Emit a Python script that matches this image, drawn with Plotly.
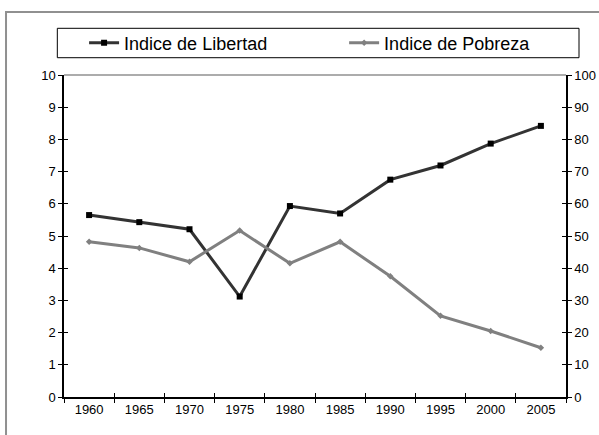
import plotly.graph_objects as go

years = ["1960", "1965", "1970", "1975", "1980", "1985", "1990", "1995", "2000", "2005"]
libertad = [5.65, 5.43, 5.21, 3.12, 5.93, 5.70, 6.75, 7.19, 7.87, 8.42]
pobreza = [48.2, 46.3, 42.0, 51.7, 41.5, 48.2, 37.5, 25.2, 20.5, 15.3]
left_ticks = list(range(0, 11))
right_ticks = list(range(0, 101, 10))

FONT = "Liberation Sans, Arial, sans-serif"

fig = go.Figure()
fig.add_trace(go.Scatter(
    x=years, y=libertad, name="Indice de Libertad", mode="lines+markers",
    line=dict(color="#333333", width=3),
    marker=dict(symbol="square", size=6, color="#000000"),
    yaxis="y", legend="legend",
))
fig.add_trace(go.Scatter(
    x=years, y=pobreza, name="Indice de Pobreza", mode="lines+markers",
    line=dict(color="#808080", width=3),
    marker=dict(symbol="diamond", size=5, color="#808080"),
    yaxis="y2", legend="legend2",
))
# empty helper traces so the inner tick marks (crossing ticks) are drawn
for ya in ("y3", "y4"):
    fig.add_trace(go.Scatter(x=years, y=[None] * len(years), xaxis="x2", yaxis=ya,
                             mode="lines", showlegend=False, hoverinfo="skip"))

axis_common = dict(showgrid=False, zeroline=False, showline=True, linecolor="#000000",
                   linewidth=1.5, ticks="outside", ticklen=4, tickcolor="#000000",
                   tickfont=dict(family=FONT, size=13, color="#000000"))
inner_common = dict(showgrid=False, zeroline=False, showline=False, ticks="inside",
                    ticklen=4, tickcolor="#000000", tickwidth=1, showticklabels=False)

legend_common = dict(orientation="h", xanchor="left", y=1.0994, yanchor="middle",
                     font=dict(family=FONT, size=18, color="#000000"),
                     bgcolor="rgba(0,0,0,0)", borderwidth=0, itemwidth=30)

fig.update_layout(
    width=599, height=435,
    margin=dict(l=64, r=33, t=75, b=38, autoexpand=False),
    paper_bgcolor="#ffffff", plot_bgcolor="#ffffff",
    font=dict(family=FONT, size=13, color="#000000"),
    hovermode=False,
    xaxis=dict(type="category", tickson="boundaries", range=[-0.5, 9.5], **axis_common),
    yaxis=dict(range=[0, 10], tickvals=left_ticks, ticktext=[str(v) for v in left_ticks], **axis_common),
    yaxis2=dict(range=[0, 100], tickvals=right_ticks, ticktext=[str(v) for v in right_ticks],
                overlaying="y", side="right", **axis_common),
    xaxis2=dict(type="category", tickson="boundaries", range=[-0.5, 9.5], overlaying="x",
                side="bottom", anchor="y3", **inner_common),
    yaxis3=dict(range=[0, 10], tickvals=left_ticks, overlaying="y", side="left", anchor="x2",
                **inner_common),
    yaxis4=dict(range=[0, 100], tickvals=right_ticks, overlaying="y", side="right", anchor="x2",
                **inner_common),
    showlegend=True,
    legend=dict(x=0.04, **legend_common),
    legend2=dict(x=0.558, **legend_common),
    shapes=[
        dict(type="rect", xref="paper", yref="paper", x0=-0.1155, x1=1.3, y0=-0.3, y1=1.196,
             line=dict(color="#909090", width=2), fillcolor="rgba(0,0,0,0)", layer="below"),
        dict(type="rect", xref="paper", yref="paper", x0=-0.0133, x1=1.0259, y0=1.0537, y1=1.145,
             line=dict(color="#000000", width=1), fillcolor="rgba(0,0,0,0)"),
        dict(type="line", xref="paper", yref="paper", x0=0, x1=1, y0=1, y1=1,
             line=dict(color="#909090", width=1.5)),
    ],
)

fig.write_html("out.html", config={"displayModeBar": False},
               post_script="document.body.style.margin='0px';")
